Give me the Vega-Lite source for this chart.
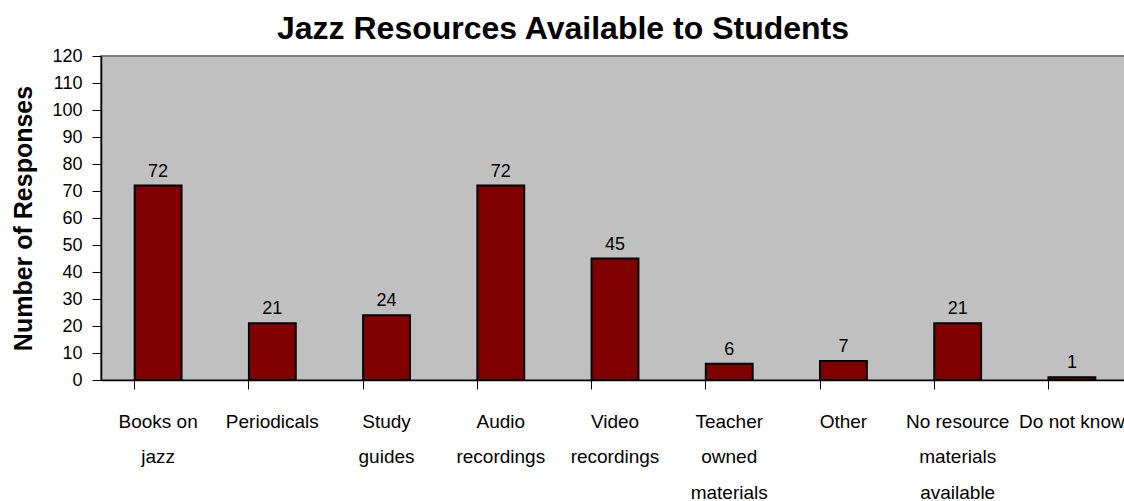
{
  "$schema": "https://vega.github.io/schema/vega-lite/v6.json",
  "autosize": "none",
  "padding": {"left": 101, "top": 56, "right": 0, "bottom": 121},
  "width": 1028,
  "height": 324,
  "background": "#ffffff",
  "title": {
    "text": "Jazz Resources Available to Students",
    "font": "Liberation Sans",
    "fontSize": 32,
    "fontWeight": "bold",
    "color": "#000000",
    "anchor": "middle",
    "frame": "group",
    "dx": -52,
    "baseline": "alphabetic",
    "offset": -24
  },
  "data": {
    "values": [
      {"category": "Books on jazz", "responses": 72},
      {"category": "Periodicals", "responses": 21},
      {"category": "Study guides", "responses": 24},
      {"category": "Audio recordings", "responses": 72},
      {"category": "Video recordings", "responses": 45},
      {"category": "Teacher owned materials", "responses": 6},
      {"category": "Other", "responses": 7},
      {"category": "No resource materials available", "responses": 21},
      {"category": "Do not know", "responses": 1}
    ]
  },
  "config": {
    "view": {"fill": "#C0C0C0", "stroke": "#808080", "strokeWidth": 2},
    "axis": {"grid": false}
  },
  "encoding": {
    "x": {
      "field": "category",
      "type": "nominal",
      "sort": null,
      "scale": {"paddingInner": 0.59, "paddingOuter": 0.295},
      "axis": {
        "title": null,
        "labelAngle": 0,
        "bandPosition": 0,
        "domainColor": "#000000",
        "domainWidth": 1.5,
        "tickColor": "#000000",
        "tickSize": 9,
        "tickWidth": 1,
        "labelFont": "Liberation Sans",
        "labelFontSize": 19,
        "labelColor": "#000000",
        "labelBaseline": "alphabetic",
        "labelPadding": 38,
        "labelLineHeight": 35.5,
        "labelOverlap": false,
        "labelLimit": 0,
        "labelExpr": "{'Books on jazz': ['Books on', 'jazz'], 'Study guides': ['Study', 'guides'], 'Audio recordings': ['Audio', 'recordings'], 'Video recordings': ['Video', 'recordings'], 'Teacher owned materials': ['Teacher', 'owned', 'materials'], 'No resource materials available': ['No resource', 'materials', 'available']}[datum.label] || datum.label"
      }
    },
    "y": {
      "field": "responses",
      "type": "quantitative",
      "scale": {"domain": [0, 120], "nice": false},
      "axis": {
        "title": "Number of Responses",
        "values": [0, 10, 20, 30, 40, 50, 60, 70, 80, 90, 100, 110, 120],
        "domainColor": "#000000",
        "domainWidth": 1.5,
        "tickColor": "#000000",
        "tickSize": 9,
        "tickWidth": 1,
        "labelFont": "Liberation Sans",
        "labelFontSize": 18,
        "labelColor": "#000000",
        "labelPadding": 10,
        "labelBaseline": "middle",
        "titleFont": "Liberation Sans",
        "titleFontSize": 25,
        "titleFontWeight": "bold",
        "titleColor": "#000000",
        "titleAngle": -90,
        "titleAlign": "center",
        "titleBaseline": "alphabetic",
        "titleX": -70,
        "titleY": 162
      }
    }
  },
  "layer": [
    {
      "mark": {"type": "bar", "fill": "#800000", "stroke": "#000000", "strokeWidth": 2}
    },
    {
      "mark": {
        "type": "text",
        "baseline": "alphabetic",
        "dy": -9,
        "font": "Liberation Sans",
        "fontSize": 18,
        "color": "#000000"
      },
      "encoding": {"text": {"field": "responses", "type": "quantitative"}}
    }
  ]
}
